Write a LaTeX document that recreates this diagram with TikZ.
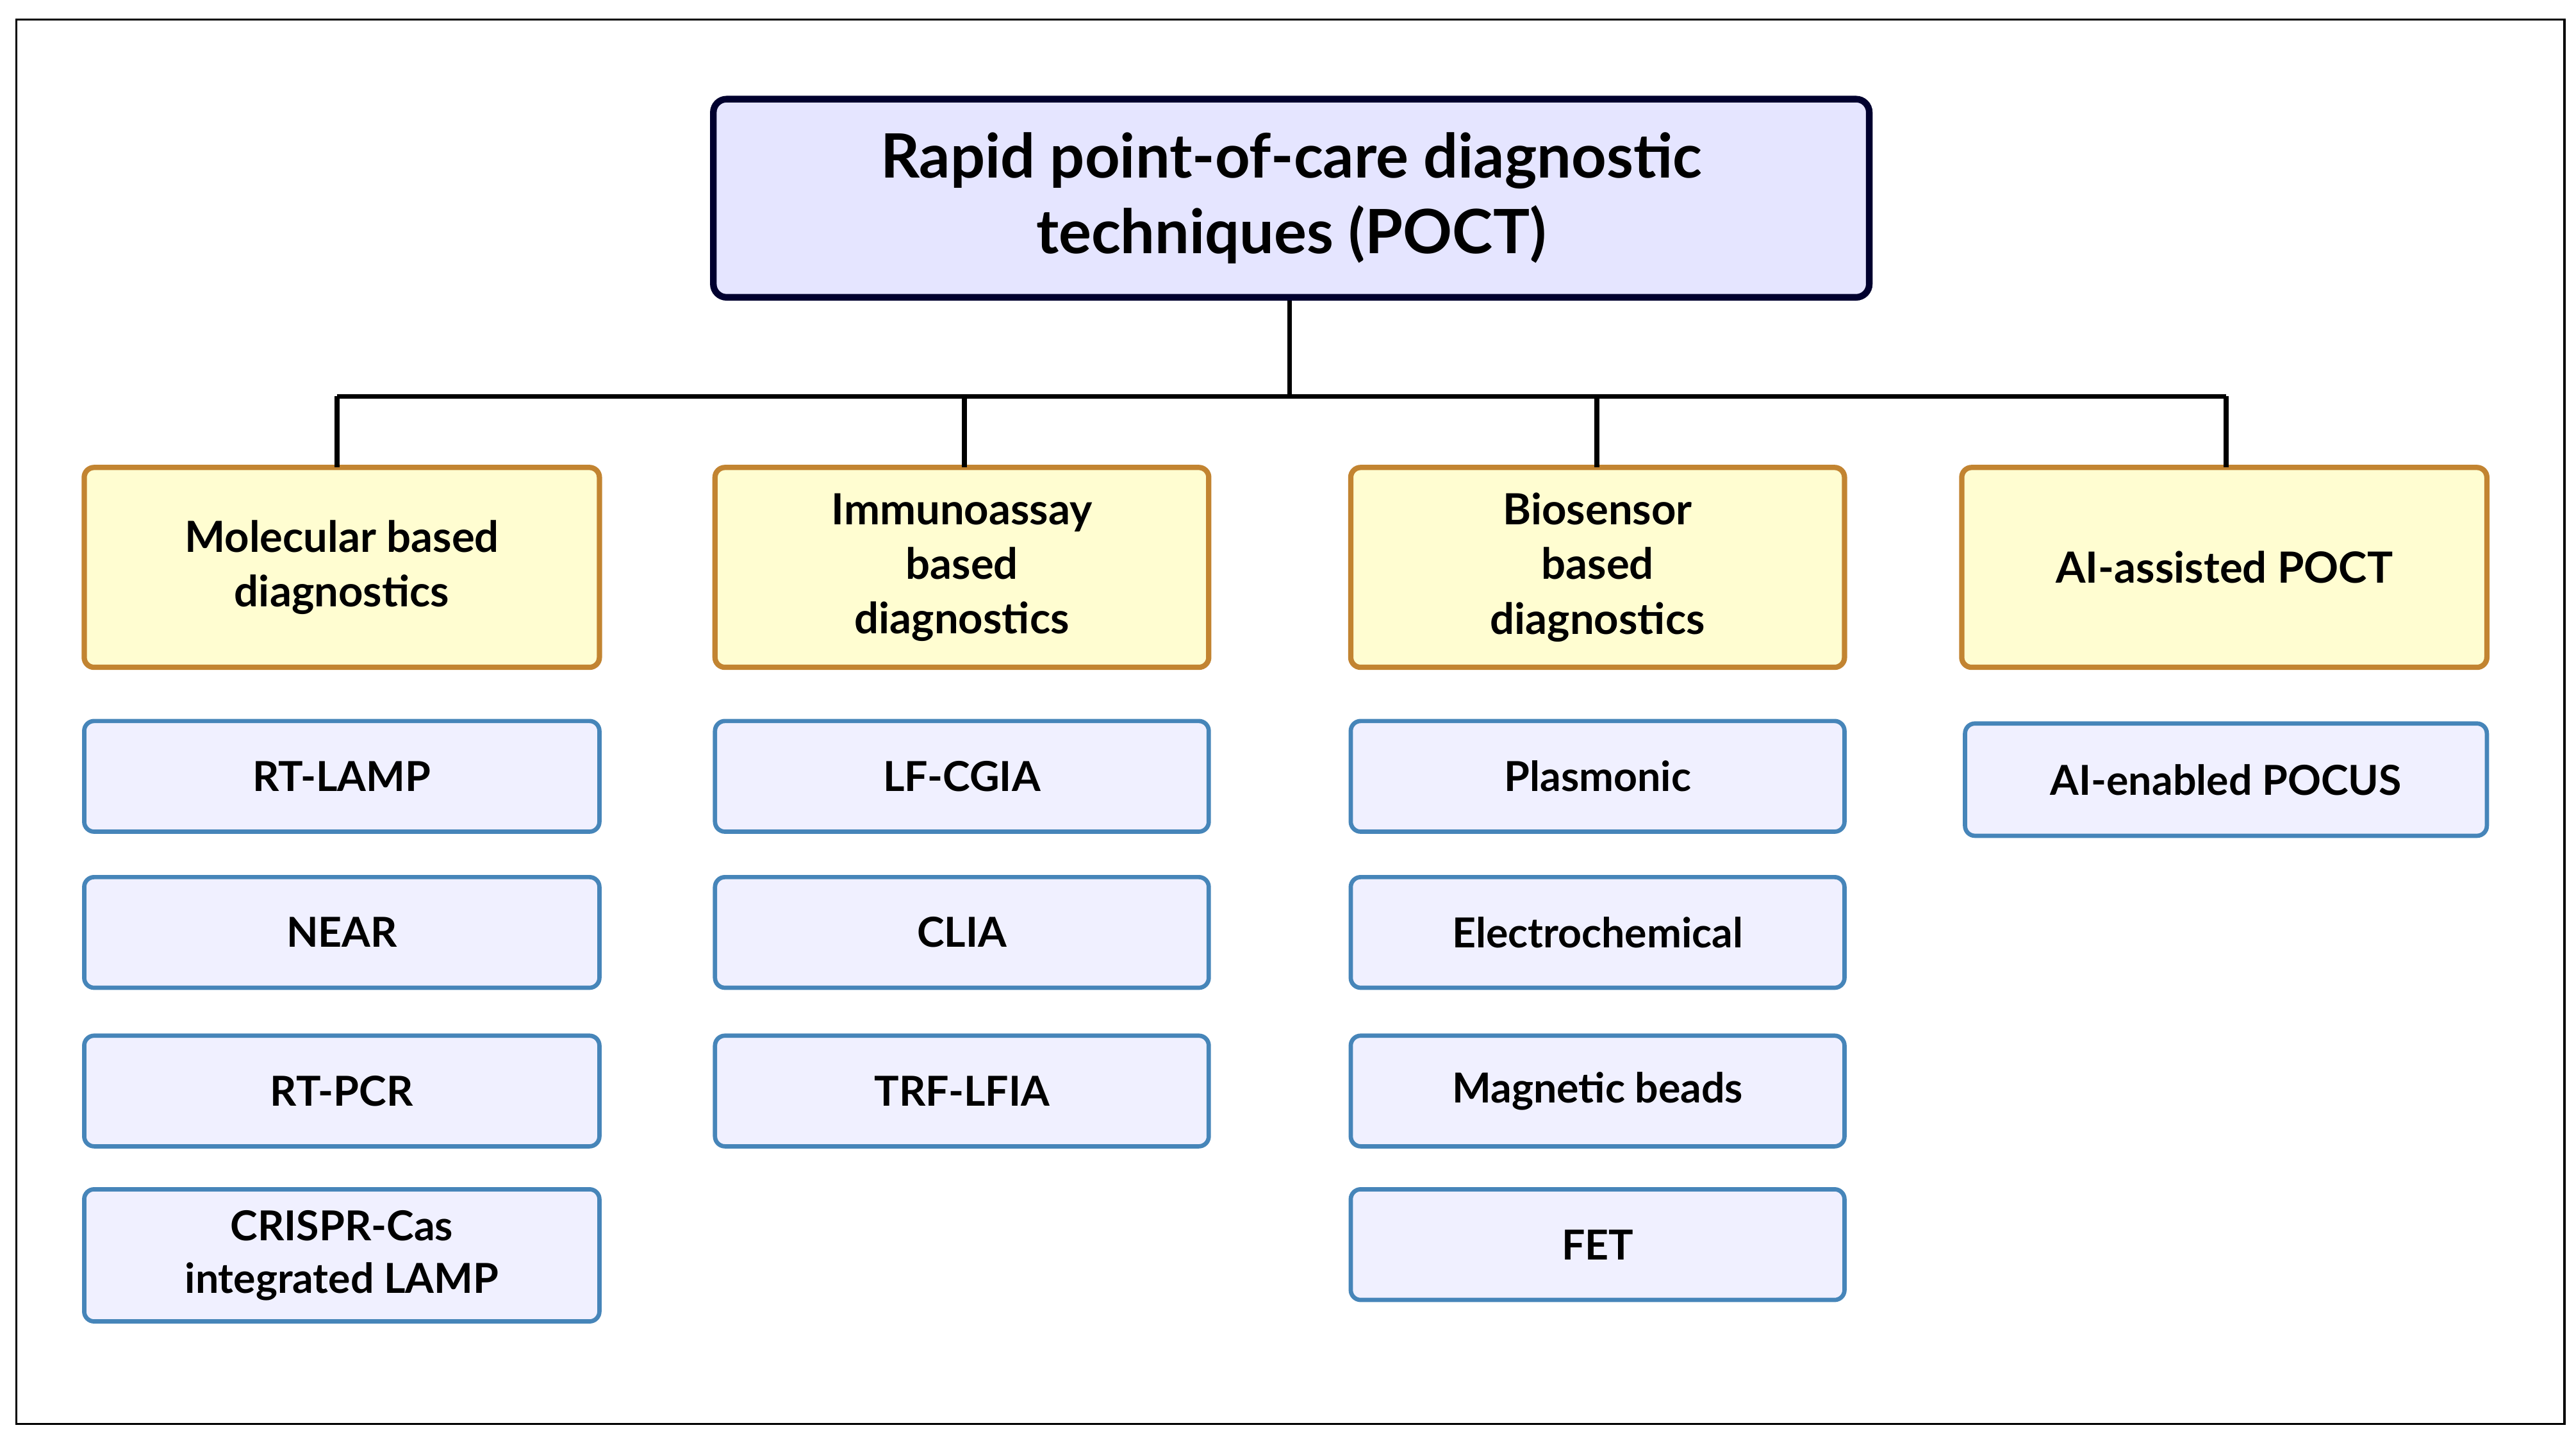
\documentclass[tikz,border=0pt]{standalone}
\usepackage{fontspec}
\setmainfont{Lato}
\begin{document}
\begin{tikzpicture}[x=1pt,y=-1pt,
 title/.style={draw=black!70!blue!60!black,fill=blue!10!white,line width=4pt,rounded corners=8pt,minimum width=700pt,minimum height=120pt,align=center,font=\fontsize{37}{46}\selectfont\bfseries},
 cat/.style={draw=yellow!55!red!75!black,fill=yellow!18!white,line width=3.2pt,rounded corners=6pt,minimum height=121pt,align=center,font=\fontsize{26}{33}\selectfont\bfseries},
 leaf/.style={draw=blue!45!cyan!45!gray,fill=blue!6!white,line width=2.6pt,rounded corners=6pt,minimum height=67pt,align=center,font=\fontsize{25}{32}\selectfont\bfseries},
 conn/.style={line width=3pt,black}]
\useasboundingbox (0,0) rectangle (1560,871);
\draw[line width=1.2pt] (10,12) rectangle (1553,862);
\node[title] (root) at (782,120) {Rapid point-of-care diagnostic\\techniques (POCT)};
\node[cat,minimum width=312pt] (c1) at (207,343.5) {Molecular based\\diagnostics};
\node[cat,minimum width=299pt] (c2) at (582.5,343.5) {Immunoassay\\based\\diagnostics};
\node[cat,minimum width=299pt] (c3) at (967.5,343.5) {Biosensor\\based\\diagnostics};
\node[cat,minimum width=318pt] (c4) at (1347,343.5) {AI-assisted POCT};
\coordinate (j) at (781,240);
\draw[conn] (root.south -| j) -- (j);
\draw[conn] (204,240) -- (1348,240);
\draw[conn] (204,240) -- (204,283);
\draw[conn] (584,240) -- (584,283);
\draw[conn] (967,240) -- (967,283);
\draw[conn] (1348,240) -- (1348,283);
\node[leaf,minimum width=312pt] (m1) at (207,470) {RT-LAMP};
\node[leaf,minimum width=312pt] (m2) at (207,564.5) {NEAR};
\node[leaf,minimum width=312pt] (m3) at (207,660.5) {RT-PCR};
\node[leaf,minimum width=312pt,minimum height=80pt] (m4) at (207,760) {CRISPR-Cas\\integrated LAMP};
\node[leaf,minimum width=299pt] (i1) at (582.5,470) {LF-CGIA};
\node[leaf,minimum width=299pt] (i2) at (582.5,564.5) {CLIA};
\node[leaf,minimum width=299pt] (i3) at (582.5,660.5) {TRF-LFIA};
\node[leaf,minimum width=299pt] (b1) at (967.5,470) {Plasmonic};
\node[leaf,minimum width=299pt] (b2) at (967.5,564.5) {Electrochemical};
\node[leaf,minimum width=299pt] (b3) at (967.5,660.5) {Magnetic beads};
\node[leaf,minimum width=299pt] (b4) at (967.5,753.5) {FET};
\node[leaf,minimum width=316pt,minimum height=68pt] (a1) at (1348,472) {AI-enabled POCUS};
\end{tikzpicture}
\end{document}
